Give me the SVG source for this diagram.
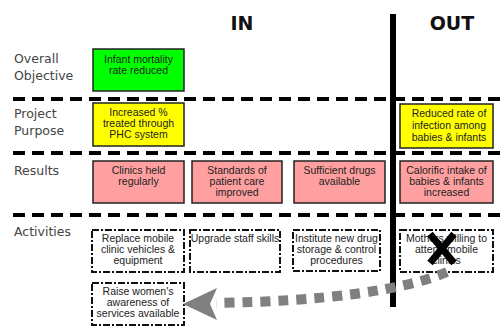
<svg xmlns="http://www.w3.org/2000/svg" width="504" height="327" viewBox="0 0 504 327">
  <style>
    .lbl { font-family: "DejaVu Sans", Verdana, sans-serif; font-size: 12.5px; fill: #444; }
    .hdr { font-family: "DejaVu Sans", Verdana, sans-serif; font-size: 19px; font-weight: bold; fill: #111; text-anchor: middle; }
    .txt { font-family: "Liberation Sans", Arial, sans-serif; font-size: 10.5px; fill: #222; text-anchor: middle; }
    .box { stroke: #222; stroke-width: 1.5; }
    .obj { fill: #00ff00; }
    .pur { fill: #ffff00; }
    .res { fill: #ff9f9f; }
    .act { fill: #fff; stroke: #111; stroke-width: 2; stroke-dasharray: 7 2 2 2; }
    .sep { stroke: #000; stroke-width: 4; stroke-dasharray: 12 7; }
  </style>

  <rect width="504" height="327" fill="#fff"/>

  <!-- row separators -->
  <line class="sep" x1="13" y1="99" x2="504" y2="99"/>
  <line class="sep" x1="13" y1="153" x2="504" y2="153"/>
  <line class="sep" x1="13" y1="215" x2="504" y2="215"/>

  <!-- IN / OUT divider -->
  <rect x="390" y="14" width="6" height="293" fill="#000"/>
  <text class="hdr" x="242" y="30">IN</text>
  <text class="hdr" x="452" y="30">OUT</text>

  <!-- row labels -->
  <text class="lbl" x="14" y="63">Overall</text>
  <text class="lbl" x="14" y="80">Objective</text>
  <text class="lbl" x="14" y="118">Project</text>
  <text class="lbl" x="14" y="135">Purpose</text>
  <text class="lbl" x="14" y="175">Results</text>
  <text class="lbl" x="14" y="236">Activities</text>

  <g id="objective">
    <rect class="box obj" x="93" y="49" width="91" height="42"/>
    <text class="txt" x="138.5" y="63">Infant mortality</text>
    <text class="txt" x="138.5" y="74">rate reduced</text>
  </g>

  <g id="purpose-in">
    <rect class="box pur" x="93" y="103" width="91" height="43"/>
    <text class="txt" x="138.5" y="116">Increased %</text>
    <text class="txt" x="138.5" y="127">treated through</text>
    <text class="txt" x="138.5" y="138">PHC system</text>
  </g>

  <g id="purpose-out">
    <rect class="box pur" x="400" y="104" width="93" height="44"/>
    <text class="txt" x="449" y="117">Reduced rate of</text>
    <text class="txt" x="449" y="129">infection among</text>
    <text class="txt" x="449" y="141">babies &amp; infants</text>
  </g>

  <g id="result-clinics">
    <rect class="box res" x="93" y="161" width="91" height="42"/>
    <text class="txt" x="138.5" y="174">Clinics held</text>
    <text class="txt" x="138.5" y="185">regularly</text>
  </g>

  <g id="result-standards">
    <rect class="box res" x="192" y="161" width="90" height="42"/>
    <text class="txt" x="237" y="174">Standards of</text>
    <text class="txt" x="237" y="185">patient care</text>
    <text class="txt" x="237" y="196">improved</text>
  </g>

  <g id="result-drugs">
    <rect class="box res" x="294" y="161" width="91" height="42"/>
    <text class="txt" x="339.5" y="174">Sufficient drugs</text>
    <text class="txt" x="339.5" y="185">available</text>
  </g>

  <g id="result-calorific">
    <rect class="box res" x="400" y="161" width="93" height="42"/>
    <text class="txt" x="446.5" y="174">Calorific intake of</text>
    <text class="txt" x="446.5" y="185">babies &amp; infants</text>
    <text class="txt" x="446.5" y="196">increased</text>
  </g>

  <g id="activity-vehicles">
    <rect class="act" x="92" y="230" width="92" height="42"/>
    <text class="txt" x="138" y="242">Replace mobile</text>
    <text class="txt" x="138" y="253">clinic vehicles &amp;</text>
    <text class="txt" x="138" y="264">equipment</text>
  </g>

  <g id="activity-staff">
    <rect class="act" x="190" y="230" width="90" height="42"/>
    <text class="txt" x="235" y="242">Upgrade staff skills</text>
  </g>

  <g id="activity-drugs">
    <rect class="act" x="293" y="230" width="87" height="41"/>
    <text class="txt" x="336.5" y="242">Institute new drug</text>
    <text class="txt" x="336.5" y="253">storage &amp; control</text>
    <text class="txt" x="336.5" y="264">procedures</text>
  </g>

  <g id="assumption-mothers">
    <rect class="act" x="400" y="230" width="93" height="42"/>
    <text class="txt" x="446.5" y="242">Mothers willing to</text>
    <text class="txt" x="446.5" y="253">attend mobile</text>
    <text class="txt" x="446.5" y="264">clinics</text>
    <!-- crossed-out mark -->
    <path d="M430,234 L454,263 M454,234 L430,263" stroke="#000" stroke-width="7" fill="none"/>
  </g>

  <g id="activity-awareness">
    <rect class="act" x="92" y="283" width="92" height="42"/>
    <text class="txt" x="138" y="295">Raise women's</text>
    <text class="txt" x="138" y="306">awareness of</text>
    <text class="txt" x="138" y="317">services available</text>
  </g>

  <g id="connectors">
    <path d="M447,272 Q380,300 216,303" fill="none" stroke="#808080" stroke-width="10" stroke-dasharray="10 8"/>
    <polygon points="183,304 217,288 210,304 217,320" fill="#808080"/>
  </g>
</svg>
